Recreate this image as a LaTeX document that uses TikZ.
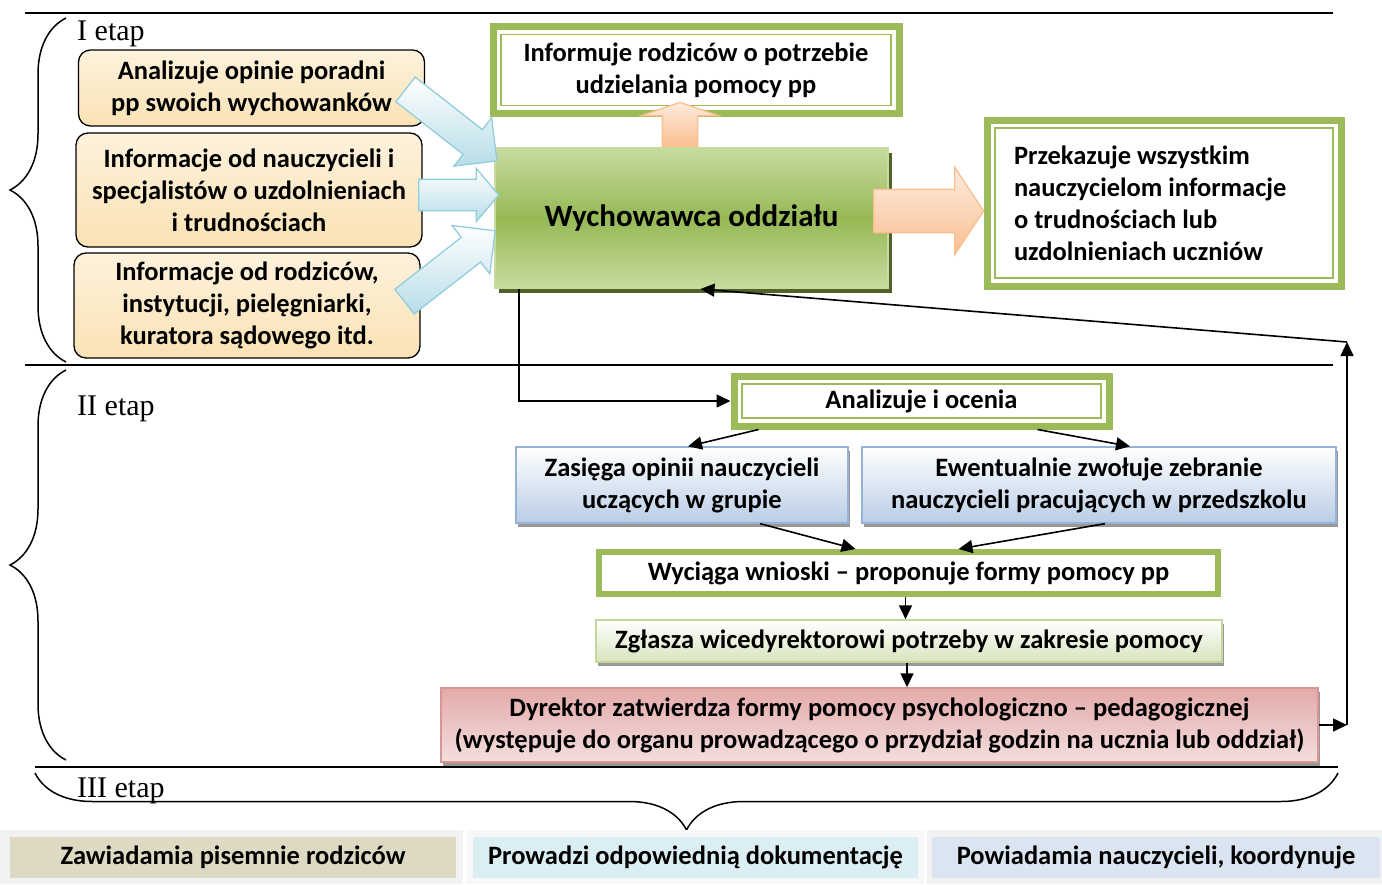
\documentclass[tikz,border=0pt]{standalone}
\usepackage{fontspec}
\setmainfont{Carlito}
\newfontfamily\etapfont{Liberation Serif}
\usetikzlibrary{shapes,arrows.meta,positioning,shadows,decorations.pathreplacing}

\definecolor{ramka}{RGB}{155,187,89}
\definecolor{zielJ}{RGB}{199,219,160}
\definecolor{zielC}{RGB}{150,185,85}
\definecolor{zielCien}{RGB}{79,98,40}
\definecolor{bezJ}{RGB}{253,242,220}
\definecolor{bezC}{RGB}{250,226,180}
\definecolor{niebC}{RGB}{183,221,232}
\definecolor{niebRam}{RGB}{146,205,220}
\definecolor{pomJ}{RGB}{253,236,222}
\definecolor{pomC}{RGB}{250,191,143}
\definecolor{pomRam}{RGB}{250,192,144}
\definecolor{blekC}{RGB}{185,205,229}
\definecolor{blekRam}{RGB}{149,179,215}
\definecolor{rozJ}{RGB}{244,222,222}
\definecolor{rozC}{RGB}{228,170,170}
\definecolor{rozRam}{RGB}{217,150,148}
\definecolor{jzielC}{RGB}{215,228,189}
\definecolor{jzielRam}{RGB}{195,214,155}
\definecolor{tanC}{RGB}{221,217,195}
\definecolor{cyjanC}{RGB}{218,238,243}
\definecolor{lawC}{RGB}{219,229,241}
\definecolor{pasekC}{RGB}{242,242,242}

\begin{document}
\begin{tikzpicture}[
    x=1pt, y=-1pt,
    font=\fontsize{26.5pt}{32pt}\selectfont\bfseries,
    linia/.style={line width=1.5pt},
    strz/.style={line width=1.6pt,-{Triangle[length=14pt,width=13pt]}},
    klamra/.style={line width=1.5pt,decorate},
    etap/.style={font=\etapfont\fontsize{30pt}{36pt}\selectfont,anchor=base west,inner sep=0pt},
    cien/.style={drop shadow={shadow xshift=2pt,shadow yshift=-4pt,fill=black!40,opacity=1}},
    ramka node/.style={rectangle,draw=ramka,line width=7pt,fill=white,align=center,inner sep=0pt,
        path picture={\draw[ramka,line width=1.3pt]
            ([shift={(8,8)}]path picture bounding box.north west) rectangle
            ([shift={(-8,-8)}]path picture bounding box.south east);}},
    gruba ramka/.style={rectangle,draw=ramka,line width=6pt,fill=white,align=center,inner sep=0pt},
    info node/.style={rectangle,rounded corners=12pt,draw=black,line width=1.3pt,
        top color=bezJ,bottom color=bezC,align=center,inner sep=0pt,
        minimum width=346pt},
    main node/.style={rectangle,draw=zielJ,line width=2pt,top color=zielJ,bottom color=zielJ,
        middle color=zielC,font=\fontsize{31pt}{36pt}\selectfont\bfseries,
        drop shadow={shadow xshift=4pt,shadow yshift=-5pt,fill=zielCien,opacity=1}},
    blok/.style={single arrow,anchor=tail,draw=niebRam,line width=1.3pt,top color=white,bottom color=niebC,
        inner xsep=0pt,inner ysep=15pt,single arrow head extend=15pt},
    blok pom/.style={single arrow,anchor=tail,draw=pomRam,line width=1.3pt,top color=pomJ,bottom color=pomC,
        inner xsep=0pt},
    etap2 node/.style={rectangle,draw=blekRam,line width=1.3pt,top color=white,bottom color=blekC,
        align=center,inner sep=0pt,minimum height=76pt,cien},
    komorka/.style={rectangle,inner sep=0pt,minimum height=41pt}
]
\useasboundingbox (0,0) rectangle (1382,884);

% Separators and braces
\draw[linia] (25,13) -- (1333,13);
\draw[linia] (25,365) -- (1333,365);
\draw[linia] (35,767) -- (1338,767);
\draw[klamra,decoration={brace,amplitude=56pt}] (66,362) -- (66,18);
\draw[klamra,decoration={brace,amplitude=56pt}] (66,760) -- (66,370);
\draw[klamra,decoration={brace,mirror,amplitude=57pt}] (35,773) -- (1338,773);

\node[etap] (etapI) at (77,40) {I etap};
\node[etap] (etapII) at (77,415) {II etap};
\node[etap] (etapIII) at (77,797) {III etap};

% Stage I
\node[ramka node, minimum width=406pt, minimum height=87pt] (rodzice) at (696,70)
    {Informuje rodziców o potrzebie\\udzielania pomocy pp};
\node[main node, minimum width=393pt, minimum height=140pt] (wych) at (691.5,218) {Wychowawca oddziału};
\node[ramka node, minimum width=354pt, minimum height=166pt] (przekaz) at (1164,203)
    {\begin{minipage}{300pt}\raggedright Przekazuje wszystkim\\nauczycielom informacje\\o trudnościach lub\\uzdolnieniach uczniów\end{minipage}};

\node[info node, minimum height=76pt] (poradnia) at (251.5,88)
    {Analizuje opinie poradni\\pp swoich wychowanków};
\node[info node, minimum height=114pt] (nauczyciele) at (249,190)
    {Informacje od nauczycieli i\\specjalistów o uzdolnieniach\\i trudnościach};
\node[info node, minimum height=105pt] (rodzicow) at (247,305.5)
    {Informacje od rodziców,\\instytucji, pielęgniarki,\\kuratora sądowego itd.};

% Block arrows
\node[blok, rotate=-38, minimum height=116pt] (blokA) at (405,89) {};
\node[blok, minimum height=80pt, single arrow head extend=11pt,
    single arrow tip angle=100] (blokB) at (418,195) {};
\node[blok, rotate=38, minimum height=115pt] (blokC) at (404,302) {};
\node[blok pom, rotate=90, minimum height=44pt, inner ysep=17pt, single arrow head extend=21pt,
    single arrow tip angle=142] (blokGora) at (680,147) {};
\node[blok pom, minimum height=110pt, inner ysep=21pt, single arrow head extend=22pt,
    single arrow tip angle=113] (blokPrawo) at (873,211) {};

% Stage II
\node[ramka node, minimum width=375pt, minimum height=50pt] (analiz) at (921.5,401) {Analizuje i ocenia};
\node[etap2 node, minimum width=332pt] (zasiega) at (682,485)
    {Zasięga opinii nauczycieli\\uczących w grupie};
\node[etap2 node, minimum width=474pt] (zebranie) at (1099,485)
    {Ewentualnie zwołuje zebranie\\nauczycieli pracujących w przedszkolu};
\node[gruba ramka, minimum width=619pt, minimum height=42pt] (wnioski) at (908.5,573)
    {Wyciąga wnioski – proponuje formy pomocy pp};
\node[rectangle, draw=jzielRam, line width=1.5pt, top color=white, bottom color=jzielC,
    minimum width=626pt, minimum height=42pt, inner sep=0pt, cien] (zglasza) at (909,641)
    {Zgłasza wicedyrektorowi potrzeby w zakresie pomocy};
\node[rectangle, draw=rozRam, line width=1.5pt, top color=rozC, bottom color=rozJ,
    minimum width=877pt, minimum height=74pt, inner sep=0pt, align=center, cien] (dyrektor) at (879.5,725)
    {Dyrektor zatwierdza formy pomocy psychologiczno – pedagogicznej\\(występuje do organu prowadzącego o przydział godzin na ucznia lub oddział)};

% Arrows
\coordinate (rogD) at (1347,725);
\coordinate (rogG) at (1347,342);
\draw[strz] ([xshift=25pt]wych.south west) |- (analiz.west);
\draw[strz] ([xshift=28pt]analiz.south west) -- ([xshift=6pt]zasiega.north);
\draw[strz] ([xshift=-75pt]analiz.south east) -- ([xshift=31pt]zebranie.north);
\draw[strz] ([xshift=78pt]zasiega.south) -- ([xshift=-53pt]wnioski.north);
\draw[strz] ([xshift=6pt]zebranie.south) -- ([xshift=50pt]wnioski.north);
\draw[strz] ([xshift=-3pt]wnioski.south) -- ([xshift=-3pt]wnioski.south |- zglasza.north);
\draw[strz] ([xshift=-2pt]zglasza.south) -- ([xshift=-2pt]zglasza.south |- dyrektor.north);
\draw[strz] (dyrektor.east) -- (rogD);
\draw[strz] (rogD) -- (rogG);
\draw[strz] (rogG) -- ([xshift=9pt]wych.south);

% Stage III
\node[fill=pasekC, minimum width=463pt, minimum height=54pt, inner sep=0pt] (tlo1) at (231.5,857) {};
\node[fill=white!97!black, minimum width=458pt, minimum height=54pt, inner sep=0pt] (tlo2) at (695,857) {};
\node[fill=pasekC, minimum width=455pt, minimum height=54pt, inner sep=0pt] (tlo3) at (1154.5,857) {};
\node[komorka, fill=tanC, minimum width=446pt] (zawiadamia) at (233,857.5) {Zawiadamia pisemnie rodziców};
\node[komorka, fill=cyjanC, minimum width=445pt] (dokumentacja) at (695.5,857.5) {Prowadzi odpowiednią dokumentację};
\node[komorka, fill=lawC, minimum width=448pt] (powiadamia) at (1156,857.5) {Powiadamia nauczycieli, koordynuje};

\end{tikzpicture}
\end{document}
